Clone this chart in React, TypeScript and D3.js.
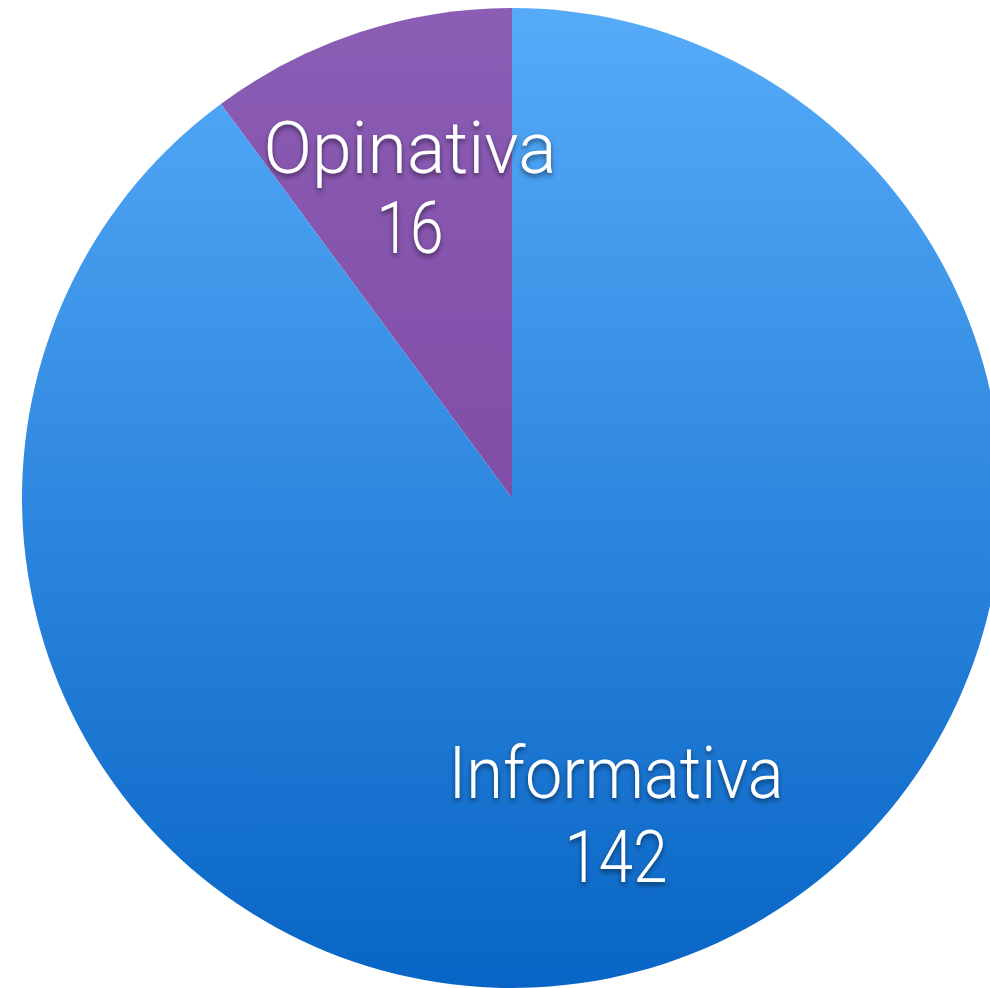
import React from "react";
import * as d3 from "d3";

const categories = ["Opinativa", "Informativa"];
const values = [16, 142];
const colorsTop = ["#8b5db5", "#56abf9"];
const colorsBottom = ["#773d99", "#0865c5"];

const W = 990;
const H = 988;

// label layout: [centerX, baseline name, baseline value, name width, value width]
const labelLayout: Record<string, number[]> = {
  Opinativa: [410, 173, 253, 293, 67],
  Informativa: [616, 798, 882, 335, 103],
};

export default function App() {
  const cx = 512;
  const cy = 498;
  const r = 490;
  const data = categories.map((c, i) => ({ c, v: values[i], i }));
  const pie = d3
    .pie<any>()
    .value((d) => d.v)
    .sort(null)
    .startAngle(0)
    .endAngle(-2 * Math.PI);
  const arcs = pie(data);
  const arc = d3.arc<any>().innerRadius(0).outerRadius(r);
  return (
    <div style={{ position: "absolute", left: 0, top: 0 }}>
      <svg width={W} height={H} style={{ display: "block" }}>
        <defs>
          {categories.map((c, i) => (
            <linearGradient
              key={c}
              id={`g${i}`}
              gradientUnits="userSpaceOnUse"
              x1={0}
              y1={-r}
              x2={0}
              y2={r}
            >
              <stop offset="0" stopColor={colorsTop[i]} />
              <stop offset="1" stopColor={colorsBottom[i]} />
            </linearGradient>
          ))}
          <filter id="sh" x="-20%" y="-20%" width="140%" height="160%">
            <feDropShadow dx="0" dy="3" stdDeviation="2.5" floodColor="#000" floodOpacity="0.5" />
          </filter>
        </defs>
        <g transform={`translate(${cx},${cy})`}>
          {arcs.map((a) => (
            <path key={a.data.c} d={arc(a) as string} fill={`url(#g${a.data.i})`} />
          ))}
        </g>
        {arcs.map((a) => {
          const [x, y1, y2, w1, w2] = labelLayout[a.data.c];
          return (
            <g
              key={a.data.c}
              fill="#fff"
              fontFamily="Roboto, 'Open Sans', sans-serif"
              fontWeight={300}
              fontSize={73}
              textAnchor="middle"
              filter="url(#sh)"
            >
              <text x={x} y={y1} textLength={w1} lengthAdjust="spacingAndGlyphs">
                {a.data.c}
              </text>
              <text x={x} y={y2} textLength={w2} lengthAdjust="spacingAndGlyphs">
                {a.data.v}
              </text>
            </g>
          );
        })}
      </svg>
    </div>
  );
}
